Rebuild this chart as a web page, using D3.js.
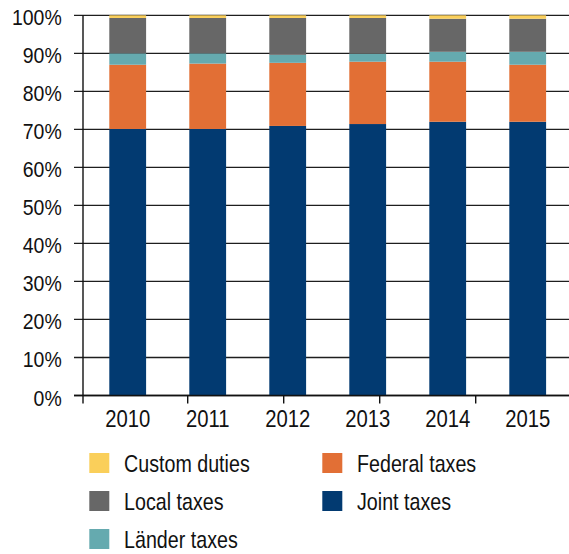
<!DOCTYPE html>
<html>
<head>
<meta charset="utf-8">
<script src="https://cdn.jsdelivr.net/npm/d3@7"></script>
<style>
  html, body { margin: 0; padding: 0; background: #fff; }
  svg { display: block; }
  text { font-family: "Liberation Sans", Arial, sans-serif; fill: #111; }
</style>
</head>
<body>
<svg id="chart" width="569" height="554"></svg>
<script>
// Share of tax revenue by type (%), bottom to top of each stack
const years = ["2010", "2011", "2012", "2013", "2014", "2015"];
const jointTaxes   = [70.1, 70.1, 70.9, 71.4, 72.0, 72.0];
const federalTaxes = [16.9, 17.2, 16.6, 16.4, 15.8, 15.0];
const landerTaxes  = [3.0, 2.7, 2.1, 2.1, 2.6, 3.4];
const localTaxes   = [9.3, 9.3, 9.7, 9.4, 8.7, 8.7];
const customDuties = [0.7, 0.7, 0.7, 0.7, 0.9, 0.9];
const yTicks = [0, 10, 20, 30, 40, 50, 60, 70, 80, 90, 100];

const seriesDefs = [
  { key: "joint",   name: "Joint taxes",   values: jointTaxes,   color: "#023a71" },
  { key: "federal", name: "Federal taxes", values: federalTaxes, color: "#e26f35" },
  { key: "lander",  name: "Länder taxes",  values: landerTaxes,  color: "#65aaaf" },
  { key: "local",   name: "Local taxes",   values: localTaxes,   color: "#676767" },
  { key: "custom",  name: "Custom duties", values: customDuties, color: "#facf5a" }
];

const rows = years.map((yr, i) => {
  const r = { year: yr };
  seriesDefs.forEach(s => r[s.key] = s.values[i]);
  return r;
});

const svg = d3.select("#chart");
const axisX = 83, plotRight = 569, gridLeft = 74;

const y = d3.scaleLinear().domain([0, 100]).range([395.5, 15.3]);
const x = d3.scaleBand().domain(years).range([87.7, 567.7]).paddingInner(0.54).paddingOuter(0.27);
// category tick marks along the bottom axis
const tickPos = d3.scaleLinear().domain([0, 5]).range([91.7, 571.7]);

// horizontal gridlines (behind bars)
svg.append("g").selectAll("line").data(yTicks).join("line")
  .attr("x1", gridLeft).attr("x2", plotRight)
  .attr("y1", d => y(d)).attr("y2", d => y(d))
  .attr("stroke", "#1e1e1e").attr("stroke-width", d => d === 0 ? 1.7 : 1.3);

// stacked bars
const stack = d3.stack().keys(seriesDefs.map(s => s.key));
const layers = stack(rows);
svg.append("g").selectAll("g").data(layers).join("g")
  .attr("fill", (d, i) => seriesDefs[i].color)
  .selectAll("rect").data(d => d).join("rect")
  .attr("x", d => x(d.data.year))
  .attr("width", x.bandwidth())
  .attr("y", d => y(d[1]))
  .attr("height", d => y(d[0]) - y(d[1]));

// baseline redrawn on top of bars
svg.append("line")
  .attr("x1", gridLeft).attr("x2", plotRight)
  .attr("y1", y(0)).attr("y2", y(0))
  .attr("stroke", "#111").attr("stroke-width", 1.7);

// vertical axis line
svg.append("line")
  .attr("x1", axisX).attr("x2", axisX)
  .attr("y1", y(100)).attr("y2", y(0) + 8)
  .attr("stroke", "#111").attr("stroke-width", 1.4);

// bottom tick marks
svg.append("g").selectAll("line").data([1, 2, 3, 4]).join("line")
  .attr("x1", d => tickPos(d)).attr("x2", d => tickPos(d))
  .attr("y1", y(0)).attr("y2", y(0) + 8)
  .attr("stroke", "#111").attr("stroke-width", 1.4);

// y tick labels
svg.append("g").selectAll("text").data(yTicks).join("text")
  .attr("text-anchor", "end")
  .attr("font-size", 21.4)
  .attr("transform", d => `translate(61.7,${y(d) + 10}) scale(0.91,1)`)
  .text(d => d + "%");

// x category labels
svg.append("g").selectAll("text").data(years).join("text")
  .attr("text-anchor", "middle")
  .attr("font-size", 23.3)
  .attr("transform", d => `translate(${x(d) + x.bandwidth() / 2},427.3) scale(0.87,1)`)
  .text(d => d);

// legend: two columns, listed top-to-bottom
const legendItems = [
  { s: seriesDefs[4], col: 0, row: 0 },
  { s: seriesDefs[3], col: 0, row: 1 },
  { s: seriesDefs[2], col: 0, row: 2 },
  { s: seriesDefs[1], col: 1, row: 0 },
  { s: seriesDefs[0], col: 1, row: 1 }
];
const colX = [89.3, 322.3], rowY0 = 453, rowStep = 38;
const lg = svg.append("g").selectAll("g").data(legendItems).join("g")
  .attr("transform", d => `translate(${colX[d.col]},${rowY0 + d.row * rowStep})`);
lg.append("rect").attr("width", 20).attr("height", 20).attr("fill", d => d.s.color);
lg.append("text")
  .attr("font-size", 24)
  .attr("transform", "translate(34.7,18.7) scale(0.82,1)")
  .text(d => d.s.name);
</script>
</body>
</html>
